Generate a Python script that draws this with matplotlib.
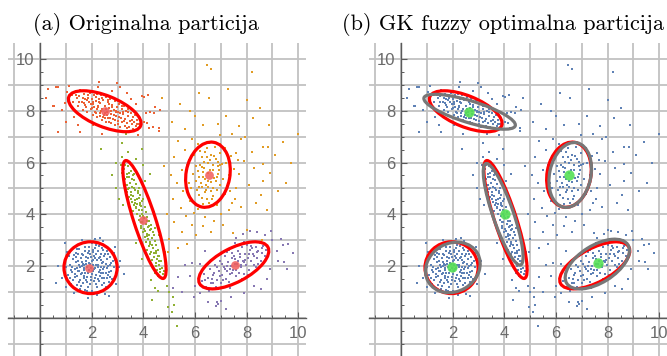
import matplotlib
matplotlib.use("Agg")
import matplotlib.pyplot as plt
from matplotlib.patches import Ellipse

# ---------------------------------------------------------------- data
blue_pts = [
    (1.95,1.93),(2.12,2.31),(1.71,1.62),(2.43,1.88),(1.38,2.15),(2.05,2.62),(1.62,2.48),(2.28,1.44),(1.84,1.21),(2.57,2.27),
    (1.22,1.77),(2.71,1.59),(1.49,1.38),(2.18,2.05),(1.77,2.21),(2.34,2.48),(1.56,1.96),(2.02,1.68),(2.49,1.36),(1.31,2.44),
    (2.63,2.01),(1.88,2.72),(1.44,1.61),(2.26,1.79),(1.68,1.85),(2.09,1.42),(2.38,2.14),(1.15,2.06),(1.92,2.45),(2.55,1.72),
    (1.59,2.31),(2.15,2.83),(1.74,1.08),(2.42,2.63),(1.28,1.48),(2.81,2.18),(1.83,1.57),(2.21,1.18),(1.52,2.67),(2.67,1.39),
    (1.99,2.19),(1.41,1.93),(2.32,1.61),(1.66,2.08),(2.47,2.41),(1.87,1.73),(2.08,2.41),(1.35,1.71),(2.74,1.83),(1.58,1.24),
    (2.24,2.59),(1.79,2.37),(2.11,1.56),(1.47,2.21),(2.58,1.94),(1.93,1.31),(2.36,1.97),(1.19,1.86),(2.01,2.91),(1.71,2.04),
    (2.46,1.55),(1.63,1.72),(2.19,2.22),(1.37,2.52),(2.87,1.97),(1.81,1.96),(2.29,2.77),(1.54,1.45),(2.62,2.47),(1.96,1.58),
    (2.14,1.93),(1.26,2.29),(2.39,1.27),(1.72,2.58),(2.53,2.09),(1.89,2.14),(1.45,1.83),(2.27,2.31),(1.67,1.33),(2.06,2.04),
    (2.72,2.35),(1.33,1.59),(2.17,1.67),(1.61,2.17),(2.44,1.74),(1.85,2.49),(2.31,1.86),(1.08,1.64),(2.59,1.54),(1.76,1.47),
    (2.04,2.55),(1.50,2.03),(2.35,2.25),(1.69,1.94),(2.22,1.51),(1.40,2.35),(2.66,1.78),(1.94,2.07),(2.13,2.69),(1.57,1.69),
    (2.49,1.98),(1.82,1.39),(2.25,2.03),(1.24,1.95),(2.76,2.11),(1.65,2.42),(2.03,1.80),(1.43,1.27),(2.40,2.71),(1.90,1.84),
    (1.75,2.75),(2.35,2.85),(1.42,2.68),(2.60,2.60),(2.80,1.50),(2.55,1.20),(1.20,1.30),(1.10,2.40),(2.00,1.05),(1.55,1.10),
    (2.85,2.50),(2.98,1.75),(0.98,1.95),(1.30,2.75),(2.05,2.25),(1.72,1.75),(2.25,1.95),(1.85,2.30),(2.40,1.55),(1.50,1.80),
    (2.70,2.05),(1.98,1.45),(2.30,2.35),(1.62,2.00),(2.15,1.30),(1.35,1.90),(2.50,2.45),(1.80,1.05),(2.45,2.15),(1.15,1.55),
    (2.90,2.25),(1.90,2.60),(2.62,1.65),(1.45,2.45),(2.08,1.90),(1.78,2.10),(2.18,2.45),(1.68,1.55),(2.35,1.72),(1.95,2.35),
    (0.61,1.34),(0.70,2.00),(0.96,2.91),(2.12,3.05),(2.44,2.98),(2.67,0.86),(2.50,0.92),(3.10,2.21),(3.24,1.71),(0.85,1.55),
    (1.05,2.55),(2.95,1.30),(1.85,0.78),(1.30,0.95),(2.90,2.75),(1.60,3.02),(2.30,3.10),(1.00,1.20),(3.05,1.95),(2.20,0.88),
]

red_pts = [
    (1.22,8.62),(1.28,8.35),(1.35,8.71),(1.41,8.48),(1.46,8.19),(1.52,8.56),(1.55,8.81),(1.60,8.33),(1.64,8.02),(1.68,8.64),
    (1.72,8.45),(1.75,8.21),(1.79,8.77),(1.83,7.95),(1.86,8.51),(1.90,8.32),(1.93,8.68),(1.97,8.08),(2.00,8.44),(2.03,7.83),
    (2.06,8.25),(2.09,8.59),(2.12,7.97),(2.15,8.38),(2.18,8.71),(2.21,7.74),(2.24,8.15),(2.27,8.47),(2.30,7.91),(2.33,8.29),
    (2.36,8.62),(2.38,7.66),(2.41,8.07),(2.44,8.41),(2.47,7.83),(2.50,8.20),(2.53,7.58),(2.55,8.53),(2.58,7.95),(2.61,8.32),
    (2.64,7.71),(2.67,8.11),(2.70,8.45),(2.73,7.52),(2.76,7.89),(2.79,8.24),(2.82,7.67),(2.85,8.03),(2.88,8.36),(2.91,7.45),
    (2.94,7.81),(2.97,8.14),(3.00,7.61),(3.03,7.97),(3.06,8.27),(3.09,7.38),(3.12,7.73),(3.15,8.06),(3.18,7.55),(3.21,7.88),
    (3.24,8.18),(3.27,7.42),(3.30,7.69),(3.33,7.99),(3.36,7.51),(3.39,7.80),(3.42,8.08),(3.45,7.36),(3.48,7.62),(3.51,7.90),
    (3.55,7.47),(3.59,7.74),(3.63,7.55),(3.67,7.83),(3.71,7.40),(3.76,7.65),(3.81,7.49),(3.86,7.71),(3.91,7.58),(3.60,7.31),
    (2.20,8.05),(2.46,8.63),(2.60,7.82),(1.95,8.25),(2.35,7.98),(2.75,8.00),(2.10,8.13),(2.65,8.27),(1.80,8.40),(3.05,7.75),
    (2.52,7.90),(2.28,8.33),(2.85,7.84),(2.42,7.75),(1.70,8.30),(2.95,8.00),(2.15,8.53),(3.20,7.95),
    (1.50,8.35),(1.85,8.60),(2.25,8.20),(2.55,8.05),(2.90,7.65),(3.25,7.60),(3.40,7.95),(2.70,7.70),(2.00,8.10),(1.65,8.50),
    (2.40,8.50),(2.78,8.15),(3.10,7.90),(3.55,7.65),(2.15,7.90),(1.90,8.75),(2.62,8.40),(3.00,7.50),(2.32,7.80),(2.85,8.50),
    (1.40,8.60),(3.75,7.50),(2.50,7.70),(2.20,8.65),(3.35,7.35),(1.78,8.15),(2.68,7.55),(3.15,8.20),(2.05,8.35),(2.95,7.95),
    (0.31,8.83),(0.61,8.90),(0.69,8.90),(0.22,8.48),(0.48,8.18),(0.54,8.18),(0.83,8.03),(1.02,8.74),(0.70,7.19),(1.54,7.19),
    (1.00,7.58),(2.25,8.93),(2.96,9.08),(3.10,8.90),(3.35,8.68),(3.93,8.57),(4.17,8.60),(4.10,7.93),(4.25,7.97),(4.40,7.93),
    (4.02,7.58),(4.12,7.51),(4.22,7.32),(4.38,7.36),(4.60,7.23),(4.64,8.03),(4.45,8.15),(4.60,7.34),(4.02,8.53),(3.80,7.07),
    (2.40,7.10),(2.27,9.10),(1.10,8.95),(0.95,8.30),(1.30,7.75),(1.45,7.45),(3.50,8.45),(2.80,8.75),(3.70,8.25),(2.05,7.45),
]

green_pts = [
    (3.18,6.21),(3.30,6.05),(3.12,5.92),(3.41,5.88),(3.25,5.74),(3.50,5.69),(3.36,5.55),(3.15,5.61),(3.58,5.52),(3.44,5.43),
    (3.28,5.35),(3.62,5.31),(3.49,5.22),(3.71,5.18),(3.35,5.12),(3.56,5.05),(3.82,5.01),(3.42,4.96),(3.67,4.92),(3.53,4.85),
    (3.77,4.81),(3.38,4.88),(3.88,4.75),(3.60,4.72),(3.45,4.65),(3.81,4.62),(3.69,4.55),(3.95,4.51),(3.55,4.47),(3.76,4.41),
    (3.62,4.36),(3.90,4.32),(4.05,4.28),(3.71,4.24),(3.84,4.18),(3.58,4.12),(4.10,4.09),(3.96,4.03),(3.75,4.00),(3.68,4.45),
    (3.52,4.60),(3.87,4.42),(4.00,4.60),(3.86,3.94),(4.15,3.90),(4.01,3.85),(3.81,3.78),(4.22,3.74),(3.94,3.69),(4.08,3.63),
    (4.30,3.58),(3.89,3.55),(4.17,3.50),(4.03,3.44),(4.26,3.38),(3.97,3.33),(4.37,3.31),(4.12,3.25),(4.21,3.20),(3.92,3.48),
    (4.45,3.47),(4.05,3.14),(4.32,3.10),(4.18,3.04),(4.44,2.98),(4.09,2.93),(4.27,2.87),(4.50,2.82),(4.20,2.76),(4.38,2.70),
    (4.15,2.64),(4.56,2.62),(4.31,2.56),(4.47,2.50),(4.25,2.45),(4.62,2.41),(4.40,2.36),(4.54,2.29),(4.33,2.22),(4.68,2.18),
    (4.47,2.12),(4.59,2.04),(4.38,1.98),(4.72,1.93),(4.52,1.86),(4.64,1.78),(4.45,1.72),(4.76,1.68),(4.58,1.61),(4.70,1.55),
    (3.45,5.60),(3.55,5.35),(3.65,5.00),(3.50,4.75),(3.75,4.60),(3.85,4.35),(3.95,4.15),(3.70,4.30),(4.00,3.95),(4.12,3.75),
    (3.90,3.70),(4.20,3.55),(4.05,3.35),(4.30,3.45),(4.15,3.15),(4.40,3.20),(4.25,2.95),(4.35,2.80),(4.50,2.60),(4.40,2.50),
    (4.55,2.40),(4.60,2.20),(4.50,2.00),(4.65,1.90),(4.80,1.80),(3.30,5.90),(3.35,5.45),(3.62,5.55),(3.45,5.00),(3.80,4.90),
    (2.35,6.52),(3.17,6.75),(3.32,7.10),(3.93,6.52),(2.93,5.98),(3.98,5.90),(4.25,5.55),(2.95,5.00),(3.22,4.36),(3.93,2.28),
    (4.45,1.15),(4.96,0.43),(5.10,0.23),(5.30,-0.30),(5.15,0.80),(4.90,1.25),(4.30,1.45),(3.05,4.60),(4.40,4.10),(4.60,3.20),
    (3.70,2.90),(4.85,2.55),(3.40,6.40),(3.70,6.15),(4.05,5.30),(2.80,5.50),(4.55,1.05),(5.00,1.00),(4.35,0.70),(5.20,0.50),
    (3.85,3.10),(4.70,2.90),
]

orange_pts = [
    (6.52,5.98),(6.31,5.62),(6.75,5.41),(6.44,5.15),(6.88,5.85),(6.20,5.92),(6.60,6.30),(6.05,5.30),(6.95,5.12),(6.37,4.85),
    (6.71,4.72),(6.15,5.05),(6.82,6.12),(6.48,6.55),(6.27,6.21),(6.90,5.55),(6.58,5.72),(6.12,5.68),(6.40,5.35),(6.68,5.01),
    (6.25,4.62),(6.55,4.45),(6.98,6.38),(6.77,6.60),(6.02,5.85),(6.35,6.02),(6.62,5.25),(6.86,4.95),(6.18,6.45),(6.45,4.60),
    (6.92,5.70),(6.08,4.95),(6.70,5.90),(6.50,5.05),(6.30,5.45),(6.83,5.28),(6.58,6.10),(6.22,5.20),(7.05,5.95),(6.40,6.40),
    (6.65,4.60),(6.95,6.70),(5.92,5.55),(6.75,6.25),(6.15,4.75),(7.10,5.35),(6.52,5.60),(6.28,5.82),(6.88,6.02),(6.42,4.95),
    (6.50,5.30),(6.35,5.80),(6.70,5.70),(6.60,4.90),(6.25,5.05),(6.85,5.45),(6.45,6.20),(6.15,5.45),(6.95,5.90),(6.55,6.75),
    (7.20,6.00),(7.30,5.50),(5.85,5.00),(5.95,6.30),(7.00,4.60),(6.30,4.40),(7.15,4.80),(5.70,5.90),(7.65,6.10),(6.10,6.70),
    (6.47,9.77),(6.60,9.60),(8.20,9.50),(7.26,8.83),(8.00,8.42),(6.15,8.70),(5.41,8.26),(6.55,8.50),(9.98,7.10),(8.87,7.45),
    (8.25,7.70),(8.64,6.60),(8.83,6.60),(8.64,5.95),(8.64,5.30),(9.52,5.22),(8.36,4.43),(8.00,3.40),(7.48,3.29),(8.60,3.00),
    (5.60,7.30),(5.90,6.90),(6.30,7.45),(6.95,7.05),(7.45,7.10),(7.80,6.90),(7.60,6.35),(7.90,6.05),(8.30,5.80),(7.50,5.75),
    (7.40,6.25),(7.70,5.55),(8.10,5.15),(7.35,4.90),(7.55,4.60),(7.80,4.30),(7.30,4.15),(7.00,4.00),(6.75,3.75),(6.40,3.90),
    (6.10,4.20),(5.80,4.50),(5.55,4.90),(5.30,5.20),(5.50,5.70),(5.75,6.10),(5.60,6.50),(5.20,6.20),(5.05,5.50),(4.80,5.85),
    (5.90,3.60),(5.50,3.30),(5.20,3.70),(5.00,3.05),(4.96,2.56),(5.35,2.70),(5.70,2.85),(6.05,3.20),(6.60,3.30),(7.10,3.60),
    (5.45,4.25),(5.15,4.60),(4.90,4.00),(6.90,7.50),(7.20,7.80),(6.00,7.80),(5.80,8.00),(8.50,8.10),(7.70,7.40),(9.10,6.30),
    (9.40,6.80),(8.90,5.60),(9.20,4.90),(8.55,4.75),(8.20,6.40),(7.95,7.00),(7.15,6.55),(7.25,5.10),(7.60,5.00),(5.75,5.20),
    (5.95,4.05),(6.30,3.55),(7.45,4.45),(5.65,3.95),(6.85,4.35),(8.80,4.15),(9.70,6.00),(5.35,6.85),(5.10,7.55),(4.70,8.50),
]

purple_pts = [
    (6.25,1.42),(6.35,1.68),(6.42,1.21),(6.50,1.55),(6.58,1.88),(6.63,1.33),(6.70,1.64),(6.76,2.05),(6.81,1.18),(6.86,1.47),
    (6.92,1.82),(6.97,2.21),(7.02,1.35),(7.06,1.67),(7.11,1.98),(7.15,2.40),(7.20,1.52),(7.24,1.80),(7.28,2.15),(7.33,1.38),
    (7.37,1.69),(7.41,2.01),(7.45,2.52),(7.49,1.84),(7.53,2.27),(7.57,1.60),(7.61,2.08),(7.65,2.60),(7.69,1.75),(7.73,2.35),
    (7.77,1.95),(7.81,2.72),(7.85,2.18),(7.89,1.68),(7.93,2.48),(7.97,2.05),(8.01,2.83),(8.05,2.32),(8.09,1.86),(8.13,2.61),
    (8.17,2.19),(8.21,2.95),(8.25,2.45),(8.30,2.06),(8.35,2.75),(8.40,2.33),(8.45,2.58),(8.50,2.88),(8.55,2.20),(8.60,2.52),
    (8.65,2.77),(8.70,2.41),(8.76,2.62),(7.00,2.45),(7.30,2.62),(7.55,2.90),(7.90,2.95),(6.60,2.25),(6.90,1.10),(7.35,1.15),
    (7.70,1.40),(8.05,1.65),(8.35,1.95),(7.15,1.88),(7.42,2.32),(7.68,2.20),(7.82,1.50),(8.15,2.78),(6.75,1.75),(7.60,1.85),
    (7.95,2.25),(8.45,2.10),(7.25,2.55),(6.55,1.05),
    (6.40,1.45),(6.70,1.35),(6.95,1.60),(7.10,1.45),(7.25,2.00),(7.45,1.75),(7.55,2.10),(7.75,2.45),(7.90,2.15),(8.10,2.45),
    (8.20,2.70),(8.40,2.55),(8.60,2.70),(7.35,1.90),(7.80,2.05),(6.85,1.95),(7.05,2.10),(8.30,2.40),(7.50,2.40),(6.65,1.50),
    (6.49,0.63),(6.90,0.55),(7.00,0.66),(6.84,0.63),(6.80,0.45),(9.78,2.50),(9.60,2.85),(9.40,2.80),(9.18,2.60),(9.45,2.17),
    (8.54,1.13),(8.13,3.36),(8.40,3.30),(7.85,3.25),(5.87,2.14),(6.19,2.10),(5.80,1.60),(5.35,1.58),(5.15,1.15),(5.50,1.00),
    (9.00,3.00),(9.20,2.20),(8.90,1.90),(8.80,1.50),(8.30,1.25),(7.90,0.95),(7.40,0.80),(6.20,0.95),(6.00,1.25),(5.95,0.80),
    (9.55,1.90),(8.95,3.35),(7.60,3.10),(6.40,2.60),(7.20,0.35),(5.60,2.05),(9.35,3.05),(8.70,3.20),
]

cluster_pts = [blue_pts, green_pts, orange_pts, red_pts, purple_pts]
cluster_colors = ["#5E81B5", "#8FB032", "#E19C24", "#EB6235", "#8778B3"]

# true cluster centres and covariance ellipses: (cx, cy, semi-major, semi-minor, angle in degrees)
true_centres_x = [1.90, 4.00, 6.55, 2.51, 7.55]
true_centres_y = [1.93, 3.78, 5.52, 8.00, 2.05]
true_ellipses = [
    (1.95, 1.94, 1.03, 1.00, 0),
    (4.04, 3.80, 2.39, 0.42, 108),
    (6.50, 5.53, 1.27, 0.85, 80),
    (2.50, 7.98, 1.50, 0.60, -22),
    (7.50, 2.03, 1.50, 0.65, 28),
]

# Gustafson-Kessel fuzzy clustering result
gk_centres_x = [1.98, 4.03, 6.52, 2.64, 7.64]
gk_centres_y = [1.98, 4.00, 5.52, 7.95, 2.11]
gk_ellipses = [
    (2.00, 1.95, 1.10, 0.93, 30),
    (3.95, 4.00, 2.07, 0.40, 109),
    (6.55, 5.52, 1.27, 0.80, 78),
    (2.65, 7.96, 1.85, 0.42, -17),
    (7.60, 2.08, 1.40, 0.72, 32),
]

titles = ["(a) Originalna particija", "(b) GK fuzzy optimalna particija"]
tick_values = [2, 4, 6, 8, 10]

# ---------------------------------------------------------------- layout
W, H = 667, 356
UX, UY = 25.8, 25.9          # pixels per data unit
XLIM = (-1.25, 10.3)
YLIM = (-1.47, 10.6)

fig = plt.figure(figsize=(W / 100, H / 100), dpi=100)


def make_axes(left_px):
    w = (XLIM[1] - XLIM[0]) * UX
    h = (YLIM[1] - YLIM[0]) * UY
    ax = fig.add_axes([left_px / W, 0, w / W, h / H])
    ax.set_xlim(*XLIM)
    ax.set_ylim(*YLIM)
    for v in range(-1, 11):
        ax.axvline(v, color="#c2c2c2", lw=1.3, zorder=0)
        ax.axhline(v, color="#c2c2c2", lw=1.3, zorder=0)
    for side in ("top", "right"):
        ax.spines[side].set_visible(False)
    for side in ("left", "bottom"):
        ax.spines[side].set_position(("data", 0))
        ax.spines[side].set_color("#5a5a5a")
        ax.spines[side].set_linewidth(1.0)
        ax.spines[side].set_zorder(1)
    ax.set_xticks(tick_values)
    ax.set_yticks(tick_values)
    ax.set_xticklabels([str(t) for t in tick_values])
    ax.set_yticklabels([str(t) for t in tick_values])
    minor = [m / 2 for m in range(-2, 21)]
    ax.set_xticks(minor, minor=True)
    ax.set_yticks(minor, minor=True)
    ax.tick_params(which="major", direction="in", length=4, width=0.8,
                   color="#5a5a5a", labelsize=12, labelcolor="#6a6a6a")
    ax.tick_params(axis="x", which="major", pad=6)
    ax.tick_params(axis="y", which="major", pad=4)
    ax.tick_params(which="minor", direction="in", length=2.2, width=0.7,
                   color="#5a5a5a")
    for lab in ax.get_xticklabels() + ax.get_yticklabels():
        lab.set_fontfamily("Liberation Sans")
    ax.patch.set_alpha(0)
    return ax


def draw_ellipses(ax, ells, color):
    for cx, cy, a, b, ang in ells:
        ax.add_patch(Ellipse((cx, cy), 2 * a, 2 * b, angle=ang, fill=False,
                             ec=color, lw=2.3, zorder=4))


# (a) original partition
ax_a = make_axes(8)
for pts, col in zip(cluster_pts, cluster_colors):
    xs, ys = zip(*pts)
    ax_a.scatter(xs, ys, s=4, marker="s", color=col, linewidths=0, zorder=3)
draw_ellipses(ax_a, true_ellipses, "#ff0000")
ax_a.scatter(true_centres_x, true_centres_y, s=40, color="#f25c5c", alpha=0.85,
             linewidths=0, zorder=5)

# (b) GK fuzzy partition
ax_b = make_axes(369)
for pts in cluster_pts:
    xs, ys = zip(*pts)
    ax_b.scatter(xs, ys, s=4, marker="s", color="#5E81B5", linewidths=0, zorder=3)
draw_ellipses(ax_b, true_ellipses, "#ff0000")
draw_ellipses(ax_b, gk_ellipses, "#777777")
ax_b.scatter(gk_centres_x, gk_centres_y, s=55, color="#55e055", alpha=0.9,
             linewidths=0, zorder=5)

fig.text(146 / W, 1 - 25 / H, titles[0], ha="center", va="center",
         fontfamily="cmr10", fontsize=16)
fig.text(503 / W, 1 - 25 / H, titles[1], ha="center", va="center",
         fontfamily="cmr10", fontsize=16)

fig.savefig("out.png", dpi=100)
